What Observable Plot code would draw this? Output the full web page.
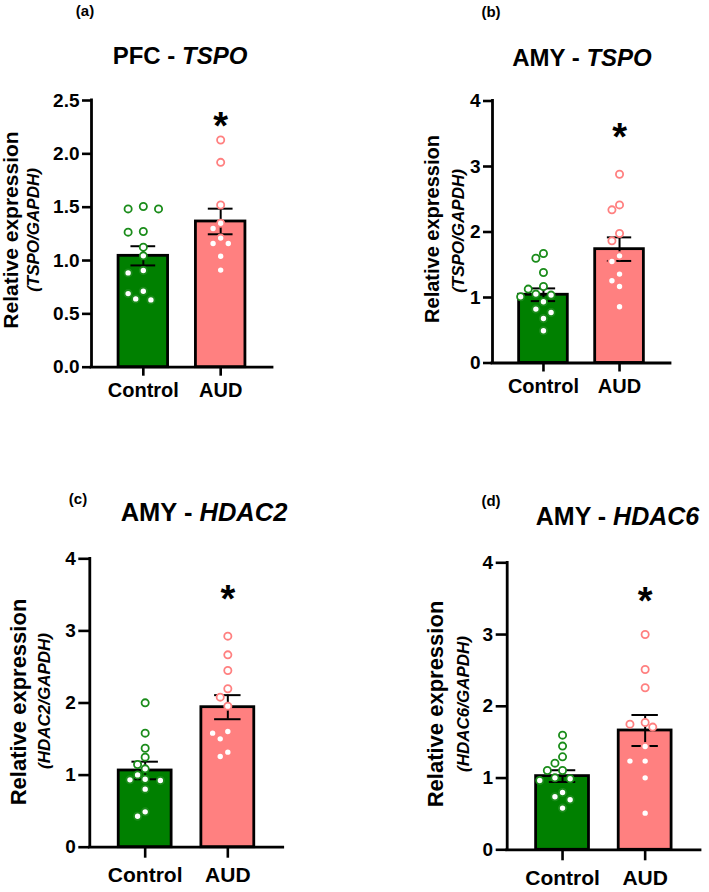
<!DOCTYPE html>
<html>
<head>
<meta charset="utf-8">
<script src="https://cdn.jsdelivr.net/npm/d3@7"></script>
<script src="https://cdn.jsdelivr.net/npm/@observablehq/plot@0.6"></script>
<style>
  body { margin: 0; background: #fff; }
  #wrap { position: relative; width: 709px; height: 892px; overflow: hidden; background: #fff;
          font-family: "Liberation Sans", Arial, Helvetica, sans-serif; }
  #wrap > svg { position: absolute; }
</style>
</head>
<body>
<div id="wrap"></div>
<script>
// ---------------- DATA ----------------
const groups = ["Control", "AUD"];
const panelLetters = ["(a)", "(b)", "(c)", "(d)"];
const regions = ["PFC", "AMY", "AMY", "AMY"];
const genes = ["TSPO", "TSPO", "HDAC2", "HDAC6"];
const yLabel = "Relative expression";
const ySubLabels = ["(TSPO/GAPDH)", "(TSPO/GAPDH)", "(HDAC2/GAPDH)", "(HDAC6/GAPDH)"];
const yMaxes = [2.5, 4, 4, 4];
const yTicksA = [0, 0.5, 1, 1.5, 2, 2.5];
const yTicksBCD = [0, 1, 2, 3, 4];
const sigMarks = ["*", "*", "*", "*"];
const sigLevels = [2.34, 3.57, 3.56, 3.58];

// bar heights (means) and SEM
const controlMeans = [1.044, 1.042, 1.064, 1.027];
const controlSEM   = [0.090, 0.097, 0.122, 0.082];
const audMeans     = [1.366, 1.738, 1.942, 1.663];
const audSEM       = [0.120, 0.180, 0.167, 0.216];

// individual points
const controlA = [1.506, 1.484, 1.484, 1.272, 1.266, 1.125, 1.044, 0.906, 0.884, 0.712, 0.690, 0.640, 0.631];
const audA     = [2.13, 1.92, 1.52, 1.35, 1.30, 1.21, 1.16, 1.16, 1.04, 0.91];
const controlB = [1.671, 1.600, 1.381, 1.168, 1.128, 1.052, 1.037, 1.011, 0.934, 0.823, 0.771, 0.680, 0.492];
const audB     = [2.882, 2.414, 2.338, 1.977, 1.865, 1.636, 1.549, 1.357, 1.255, 1.168, 0.858];
const controlC = [2.002, 1.582, 1.373, 1.249, 1.147, 1.087, 1.003, 0.943, 0.934, 0.925, 0.805, 0.490, 0.430];
const audC     = [2.927, 2.668, 2.451, 2.197, 2.081, 1.956, 1.605, 1.582, 1.503, 1.318, 1.258];
const controlD = [1.598, 1.445, 1.296, 1.208, 1.106, 1.106, 1.003, 0.990, 0.966, 0.799, 0.739, 0.697, 0.581];
const audD     = [3.001, 2.513, 2.258, 1.775, 1.751, 1.710, 1.440, 1.236, 1.236, 1.003, 0.511];

const controlPoints = [controlA, controlB, controlC, controlD];
const audPoints = [audA, audB, audC, audD];

// ---------------- STYLE / LAYOUT ----------------
const groupFill = ["#008000", "#ff8080"];
const dotStroke = ["#1a8c1a", "#ff8080"];
const FONT = '"Liberation Sans", Arial, Helvetica, sans-serif';
const xDomain = [-0.67, 1.67];
const barHalf = 0.32, capHalf = 0.16;

const layouts = [
  {left: 0,   top: 90,  width: 300, height: 330, frame: {l: 91,    r: 272,   t: 100,   b: 366.7}, tick: 9,  xPad: 7,  xFont: 20, yFont: 19, yFmt: d3.format(".1f"), ticks: yTicksA,
   title: {x: 180, y: 64, size: 24}, letter: {x: 85, y: 16}, lab: {x: 18, y: 230, size: 21}, sub: {x: 39, y: 230, size: 17}},
  {left: 360, top: 90,  width: 349, height: 330, frame: {l: 492,   r: 670,   t: 100.5, b: 362.5}, tick: 9,  xPad: 7,  xFont: 20, yFont: 19, yFmt: d3.format("d"), ticks: yTicksBCD,
   title: {x: 582, y: 66, size: 24}, letter: {x: 491, y: 17}, lab: {x: 438.5, y: 229, size: 20}, sub: {x: 464, y: 231, size: 17}},
  {left: 0,   top: 548, width: 300, height: 344, frame: {l: 89.3,  r: 282.7, t: 558.3, b: 846.7}, tick: 11, xPad: 9,  xFont: 21, yFont: 19, yFmt: d3.format("d"), ticks: yTicksBCD,
   title: {x: 204, y: 521, size: 25.5}, letter: {x: 78, y: 504}, lab: {x: 25.5, y: 702, size: 22}, sub: {x: 50, y: 701, size: 17}},
  {left: 360, top: 552, width: 349, height: 340, frame: {l: 506.7, r: 700,   t: 562.3, b: 849.3}, tick: 11, xPad: 9.5, xFont: 21, yFont: 19, yFmt: d3.format("d"), ticks: yTicksBCD,
   title: {x: 617.5, y: 525, size: 25}, letter: {x: 491, y: 506}, lab: {x: 443, y: 704, size: 22}, sub: {x: 468.5, y: 704, size: 17}}
];

// simple GraphPad-like column scatter: greedy placement on a small horizontal grid
function swarm(values, pxPerY, pxPerX, stepPx, minDistPx) {
  const order = values.map((v, i) => i).sort((a, b) => values[b] - values[a]);
  const placed = [];
  const offsets = new Array(values.length).fill(0);
  const candidates = [0, -1, 1, -2, 2, -3, 3, -4, 4];
  for (const i of order) {
    const yPx = values[i] * pxPerY;
    for (const k of candidates) {
      const xPx = k * stepPx;
      const hit = placed.some(p => Math.hypot(p.x - xPx, p.y - yPx) < minDistPx);
      if (!hit) { placed.push({x: xPx, y: yPx}); offsets[i] = xPx / pxPerX; break; }
    }
  }
  return offsets;
}

const wrap = d3.select("#wrap");

for (let p = 0; p < 4; p++) {
  const L = layouts[p];
  const f = L.frame;
  const frameW = f.r - f.l, frameH = f.b - f.t;
  const pxPerX = frameW / (xDomain[1] - xDomain[0]);
  const pxPerY = frameH / yMaxes[p];

  const summary = [
    {g: 0, mean: controlMeans[p], sem: controlSEM[p]},
    {g: 1, mean: audMeans[p], sem: audSEM[p]}
  ];
  const points = [];
  [controlPoints[p], audPoints[p]].forEach((vals, g) => {
    const offs = swarm(vals, pxPerY, pxPerX, 7.6, 8.4);
    vals.forEach((v, i) => points.push({g, value: v, x: g + offs[i]}));
  });

  const chart = Plot.plot({
    width: L.width,
    height: L.height,
    marginLeft: f.l - L.left,
    marginRight: L.left + L.width - f.r,
    marginTop: f.t - L.top,
    marginBottom: L.top + L.height - f.b,
    style: {fontFamily: FONT, fontWeight: "bold", color: "black", background: "transparent", overflow: "visible"},
    x: {domain: xDomain},
    y: {domain: [0, yMaxes[p]]},
    marks: [
      Plot.rectY(summary, {
        x1: d => d.g - barHalf, x2: d => d.g + barHalf, y1: 0, y2: "mean",
        fill: d => groupFill[d.g], stroke: "black", strokeWidth: 2.8
      }),
      Plot.ruleX(summary, {x: "g", y1: d => d.mean - d.sem, y2: d => d.mean + d.sem, stroke: "black", strokeWidth: 2}),
      Plot.ruleY(summary, {y: d => d.mean + d.sem, x1: d => d.g - capHalf, x2: d => d.g + capHalf, stroke: "black", strokeWidth: 2}),
      Plot.ruleY(summary, {y: d => d.mean - d.sem, x1: d => d.g - capHalf, x2: d => d.g + capHalf, stroke: "black", strokeWidth: 2}),
      Plot.dot(points, {x: "x", y: "value", r: 3.6, fill: "white", stroke: d => dotStroke[d.g], strokeWidth: 1.8}),
      Plot.ruleX([xDomain[0]], {stroke: "black", strokeWidth: 2.8, strokeLinecap: "square"}),
      Plot.ruleY([0], {stroke: "black", strokeWidth: 2.8, strokeLinecap: "square"}),
      Plot.axisY({ticks: L.ticks, tickFormat: L.yFmt, tickSize: L.tick, tickPadding: 3, strokeWidth: 2.6,
                  fontSize: L.yFont, fontWeight: "bold", label: null}),
      Plot.axisX({ticks: [0, 1], tickFormat: i => groups[i], tickSize: L.tick, tickPadding: L.xPad, strokeWidth: 2.6,
                  fontSize: L.xFont, fontWeight: "bold", label: null}),
      Plot.text([{g: 1, y: sigLevels[p], t: sigMarks[p]}], {x: "g", y: "y", text: "t", fontSize: 38, fontWeight: "bold", dy: 9, fill: "black"})
    ]
  });
  d3.select(chart).style("left", L.left + "px").style("top", L.top + "px");
  wrap.node().appendChild(chart);
}

// ---------------- TEXT OVERLAY (titles, panel letters, y labels) ----------------
const overlay = wrap.append("svg")
  .attr("width", 709).attr("height", 892)
  .style("left", "0px").style("top", "0px")
  .style("pointer-events", "none")
  .attr("font-family", FONT).attr("font-weight", "bold").attr("fill", "black");

layouts.forEach((L, p) => {
  const t = overlay.append("text")
    .attr("x", L.title.x).attr("y", L.title.y)
    .attr("text-anchor", "middle").attr("font-size", L.title.size);
  t.append("tspan").text(regions[p] + " - ");
  t.append("tspan").attr("font-style", "italic").text(genes[p]);

  overlay.append("text")
    .attr("x", L.letter.x).attr("y", L.letter.y)
    .attr("text-anchor", "middle").attr("font-size", 15)
    .text(panelLetters[p]);

  overlay.append("text")
    .attr("transform", `translate(${L.lab.x},${L.lab.y}) rotate(-90)`)
    .attr("text-anchor", "middle").attr("font-size", L.lab.size)
    .text(yLabel);

  overlay.append("text")
    .attr("transform", `translate(${L.sub.x},${L.sub.y}) rotate(-90)`)
    .attr("text-anchor", "middle").attr("font-size", L.sub.size).attr("font-style", "italic")
    .text(ySubLabels[p]);
});
</script>
</body>
</html>
